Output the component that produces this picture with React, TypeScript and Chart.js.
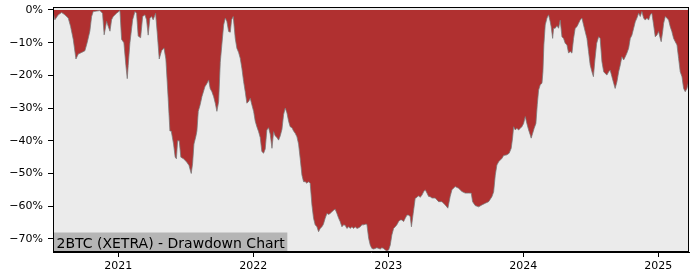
import React, { useEffect, useRef } from "react";
import { Chart, registerables } from "chart.js";

Chart.register(...registerables);

// Dates as decimal years
const dates: number[] = [
  2020.52, 2020.531, 2020.556, 2020.581, 2020.605, 2020.63, 2020.647, 2020.667, 2020.687, 2020.704,
  2020.729, 2020.753, 2020.77, 2020.79, 2020.803, 2020.815, 2020.864, 2020.884, 2020.896, 2020.914,
  2020.926, 2020.939, 2020.951, 2020.963, 2020.988, 2021.013, 2021.025, 2021.042, 2021.057, 2021.067,
  2021.074, 2021.087, 2021.107, 2021.124, 2021.136, 2021.148, 2021.166, 2021.181, 2021.198, 2021.21,
  2021.222, 2021.235, 2021.247, 2021.259, 2021.277, 2021.289, 2021.304, 2021.321, 2021.339, 2021.353,
  2021.37, 2021.383, 2021.393, 2021.41, 2021.422, 2021.431, 2021.44, 2021.452, 2021.464, 2021.484,
  2021.507, 2021.524, 2021.541, 2021.551, 2021.561, 2021.576, 2021.583, 2021.593, 2021.607, 2021.62,
  2021.642, 2021.657, 2021.67, 2021.681, 2021.694, 2021.707, 2021.719, 2021.731, 2021.744, 2021.756,
  2021.768, 2021.781, 2021.793, 2021.805, 2021.818, 2021.83, 2021.84, 2021.852, 2021.867, 2021.879,
  2021.892, 2021.904, 2021.916, 2021.929, 2021.941, 2021.953, 2021.966, 2021.978, 2021.99, 2022.003,
  2022.015, 2022.027, 2022.04, 2022.052, 2022.064, 2022.077, 2022.089, 2022.101, 2022.114, 2022.126,
  2022.139, 2022.151, 2022.163, 2022.176, 2022.188, 2022.2, 2022.213, 2022.225, 2022.237, 2022.25,
  2022.262, 2022.274, 2022.287, 2022.299, 2022.311, 2022.324, 2022.336, 2022.348, 2022.361, 2022.373,
  2022.385, 2022.398, 2022.41, 2022.422, 2022.435, 2022.447, 2022.459, 2022.472, 2022.484, 2022.496,
  2022.509, 2022.52, 2022.533, 2022.546, 2022.559, 2022.57, 2022.583, 2022.596, 2022.607, 2022.62,
  2022.633, 2022.644, 2022.657, 2022.67, 2022.681, 2022.694, 2022.707, 2022.719, 2022.731, 2022.744,
  2022.756, 2022.768, 2022.781, 2022.793, 2022.805, 2022.818, 2022.83, 2022.842, 2022.855, 2022.867,
  2022.879, 2022.892, 2022.904, 2022.916, 2022.929, 2022.941, 2022.953, 2022.966, 2022.978, 2022.99,
  2023.003, 2023.015, 2023.027, 2023.04, 2023.052, 2023.064, 2023.077, 2023.089, 2023.101, 2023.114,
  2023.126, 2023.139, 2023.151, 2023.163, 2023.172, 2023.185, 2023.2, 2023.213, 2023.225, 2023.237,
  2023.25, 2023.262, 2023.274, 2023.287, 2023.299, 2023.311, 2023.324, 2023.348, 2023.373, 2023.398,
  2023.422, 2023.442, 2023.459, 2023.472, 2023.496, 2023.521, 2023.546, 2023.57, 2023.596, 2023.615,
  2023.625, 2023.644, 2023.67, 2023.694, 2023.719, 2023.744, 2023.768, 2023.781, 2023.793, 2023.805,
  2023.818, 2023.83, 2023.842, 2023.855, 2023.879, 2023.896, 2023.911, 2023.921, 2023.929, 2023.941,
  2023.953, 2023.966, 2023.978, 2023.99, 2024.003, 2024.015, 2024.027, 2024.04, 2024.052, 2024.059,
  2024.07, 2024.081, 2024.094, 2024.104, 2024.114, 2024.126, 2024.139, 2024.146, 2024.153, 2024.163,
  2024.176, 2024.188, 2024.2, 2024.207, 2024.218, 2024.225, 2024.237, 2024.25, 2024.262, 2024.274,
  2024.287, 2024.299, 2024.311, 2024.324, 2024.336, 2024.348, 2024.361, 2024.373, 2024.385, 2024.398,
  2024.41, 2024.422, 2024.435, 2024.447, 2024.459, 2024.472, 2024.484, 2024.496, 2024.509, 2024.52,
  2024.531, 2024.544, 2024.559, 2024.57, 2024.583, 2024.596, 2024.607, 2024.62, 2024.633, 2024.644,
  2024.657, 2024.67, 2024.681, 2024.694, 2024.707, 2024.719, 2024.731, 2024.744, 2024.756, 2024.768,
  2024.781, 2024.793, 2024.805, 2024.818, 2024.83, 2024.842, 2024.855, 2024.867, 2024.879, 2024.892,
  2024.904, 2024.916, 2024.929, 2024.941, 2024.953, 2024.966, 2024.978, 2024.99, 2025.003, 2025.015,
  2025.022, 2025.033, 2025.04, 2025.052, 2025.064, 2025.077, 2025.089, 2025.101, 2025.114, 2025.126,
  2025.139, 2025.151, 2025.163, 2025.176, 2025.188, 2025.2, 2025.213, 2025.225,
];

// Drawdown in percent
const drawdown: number[] = [
  -1.0, -3.0, -1.5, -0.8, -1.5, -2.5, -5, -9, -15, -13.5,
  -13, -12.5, -10, -6.5, -2, -0.5, -0.2, -1, -7.6, -3.5,
  -5, -6.5, -3, -2, -1, -0.2, -9, -10, -17, -21,
  -17, -10, -3, -0.5, -1, -8, -8.5, -2, -1.5, -3,
  -7.7, -2.5, -2, -3, -1, -7, -15, -12.5, -11.6, -15,
  -27, -37, -37, -41, -45, -45.5, -40, -40, -45, -45.5,
  -46.5, -47.5, -50, -47, -41, -38.5, -37, -31, -29, -26.5,
  -23.5, -22.5, -21.4, -24, -25, -26.5, -28.5, -31, -28, -16,
  -10.5, -4.6, -2.5, -3.5, -6.6, -6.8, -3, -2, -8.7, -11.7,
  -13, -14.8, -17.8, -21.9, -25, -28.5, -28, -27, -29, -31,
  -34, -35.7, -37.2, -39, -43.3, -43.8, -42.5, -36.7, -36, -38,
  -42.3, -37.2, -38.5, -39, -39.8, -38.5, -36.5, -32, -30, -31.5,
  -34, -35.7, -36, -37, -37.7, -38.8, -41, -45.4, -50.5, -52.5,
  -52.5, -53, -52.5, -53, -59.6, -63.7, -65.7, -66.3, -67.8, -66.8,
  -66.3, -65.5, -63.7, -62.2, -62.5, -62.2, -61.7, -61.2, -60.9, -62.2,
  -63.7, -64.7, -66.3, -65.7, -65.8, -66.8, -66.3, -66.8, -66.3, -66.8,
  -66.3, -66.8, -66.6, -66.3, -65.7, -65.7, -65.5, -65.5, -69.8, -71.9,
  -72.9, -73.1, -72.9, -72.7, -72.9, -73.1, -72.7, -72.9, -73.4, -73.7,
  -73.4, -71.9, -68.8, -66.8, -66.3, -65.7, -64.7, -64.2, -64.2, -64.7,
  -63.7, -62.7, -62.7, -63.2, -66.3, -62.2, -57.6, -57.3, -56.8, -57.3,
  -56.6, -55.6, -55, -56, -57, -57.1, -57.5, -57.5, -58.6, -58.6,
  -59.6, -60.6, -57, -55, -54, -54.5, -55.5, -56, -56, -56,
  -58.6, -59.8, -60.2, -59.6, -59.1, -58.6, -57.1, -55.6, -50.5, -47.4,
  -46.4, -45.9, -45.4, -44.5, -44.3, -43.8, -42.3, -39.2, -35.7, -36.7,
  -36.2, -36.7, -36.2, -35.7, -34.7, -32.6, -34.7, -36.7, -38.2, -39.2,
  -37.7, -36.2, -34.7, -29, -24.5, -22.9, -22.4, -18.9, -10.7, -4.6,
  -2.5, -1.5, -3.6, -5.1, -8.7, -5.6, -5.6, -4.8, -5.6, -3.1,
  -8.2, -8.7, -10.2, -10.7, -13.2, -12.7, -13.2, -8.7, -5.6, -5.1,
  -4.1, -3.1, -2.5, -4.6, -6.6, -8.7, -12.7, -16.8, -18.9, -20.4,
  -15.3, -10.2, -8.2, -8.7, -15.8, -18.9, -19.4, -19.9, -18.9, -18.4,
  -20.4, -22.4, -24, -22, -18.9, -16.8, -14.3, -15.3, -14.3, -13.2,
  -11.7, -8.7, -7.7, -5.6, -3.6, -2.5, -1, -2, -0.5, -2.5,
  -3.1, -2.5, -3.1, -1.5, -1, -4.6, -8.2, -7.7, -6.6, -8.7,
  -9.7, -6.6, -4.1, -2, -2.5, -3.1, -5.1, -6.6, -8.7, -9.7,
  -10.7, -14.8, -18.9, -20.4, -24, -25, -24, -21.9,
];

const xTickYears: number[] = [2021, 2022, 2023, 2024, 2025];
const yTickValues: number[] = [0, -10, -20, -30, -40, -50, -60, -70];
const chartLabel = "2BTC (XETRA) - Drawdown Chart";

const FONT = "'DejaVu Sans', sans-serif";

const framePlugin = {
  id: "frame",
  beforeDraw(chart: any) {
    const { ctx, chartArea } = chart;
    ctx.save();
    ctx.fillStyle = "#ebebeb";
    ctx.fillRect(chartArea.left, chartArea.top, chartArea.right - chartArea.left, chartArea.bottom - chartArea.top);
    ctx.restore();
  },
  afterDraw(chart: any) {
    const { ctx, chartArea } = chart;
    ctx.save();
    // label box
    ctx.font = `14px ${FONT}`;
    const w = ctx.measureText(chartLabel).width;
    const boxH = 19.5;
    ctx.fillStyle = "#b5b5b5";
    ctx.fillRect(chartArea.left, chartArea.bottom - boxH, w + 6, boxH);
    ctx.fillStyle = "#000";
    ctx.textBaseline = "alphabetic";
    ctx.textAlign = "left";
    ctx.fillText(chartLabel, chartArea.left + 3.5, chartArea.bottom - 4.5);
    // frame
    ctx.strokeStyle = "#000";
    ctx.lineWidth = 1;
    ctx.strokeRect(
      Math.round(chartArea.left) + 0.5,
      Math.round(chartArea.top) + 0.5,
      Math.round(chartArea.right - chartArea.left) - 1,
      Math.round(chartArea.bottom - chartArea.top) - 1
    );
    ctx.restore();
  },
};

export default function App() {
  const ref = useRef<HTMLCanvasElement | null>(null);

  useEffect(() => {
    document.body.style.margin = "0";
    const canvas = ref.current;
    if (!canvas) return;
    const chart = new Chart(canvas, {
      type: "line",
      data: {
        datasets: [
          {
            data: dates.map((d, i) => ({ x: d, y: drawdown[i] })),
            borderColor: "rgba(120,120,120,0.75)",
            borderWidth: 1,
            backgroundColor: "#b03030",
            fill: "origin",
            pointRadius: 0,
            tension: 0,
          },
        ],
      },
      options: {
        responsive: false,
        animation: false,
        events: [],
        layout: { padding: { top: 7, right: 11, left: 0, bottom: 0 } },
        plugins: { legend: { display: false }, tooltip: { enabled: false } },
        scales: {
          x: {
            type: "linear",
            min: 2020.517,
            max: 2025.228,
            afterFit: (s: any) => {
              s.height = 28;
              s.paddingLeft = 0;
              s.paddingRight = 0;
            },
            afterBuildTicks: (s: any) => {
              s.ticks = xTickYears.map((v) => ({ value: v }));
            },
            grid: { drawOnChartArea: false, drawTicks: true, tickLength: 5, color: "#000" },
            border: { display: true, color: "#000", width: 1 },
            ticks: {
              color: "#000",
              font: { family: FONT, size: 11 },
              padding: 3,
              maxRotation: 0,
              callback: (v: any) => String(v),
            },
          },
          y: {
            type: "linear",
            min: -74.0,
            max: 0.9,
            afterFit: (s: any) => {
              s.width = 53;
              s.paddingTop = 0;
              s.paddingBottom = 0;
            },
            afterBuildTicks: (s: any) => {
              s.ticks = yTickValues.map((v) => ({ value: v }));
            },
            grid: { drawOnChartArea: false, drawTicks: true, tickLength: 5, color: "#000" },
            border: { display: true, color: "#000", width: 1 },
            ticks: {
              color: "#000",
              font: { family: FONT, size: 11 },
              padding: 5,
              callback: (v: any) => (v < 0 ? "\u2212" + Math.abs(v) + "%" : v + "%"),
            },
          },
        },
      },
      plugins: [framePlugin],
    });
    return () => chart.destroy();
  }, []);

  return <canvas ref={ref} width={700} height={280} style={{ display: "block" }} />;
}
